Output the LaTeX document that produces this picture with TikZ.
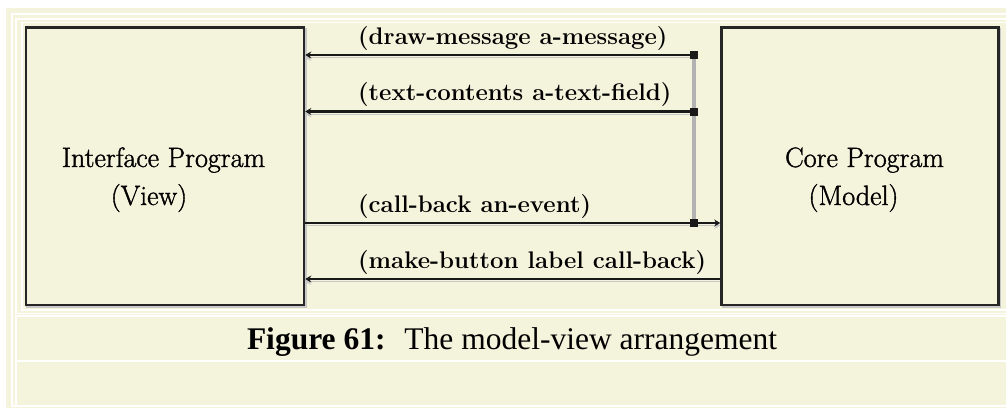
\documentclass[tikz,border=0pt]{standalone}
\usepackage{fontspec}
\newfontfamily\capfont{Liberation Serif}
\newfontfamily\progfont{Latin Modern Roman}[RawFeature={embolden=1.3}]
\usepackage{xcolor}
\usepackage{tikz}
\usetikzlibrary{arrows.meta, positioning, backgrounds}
\definecolor{panel}{HTML}{F4F3DC}

\begin{document}
\begin{tikzpicture}[
    x=1pt, y=-1pt,
    prog/.style={draw=black!85, line width=2.5pt, fill=panel, minimum width=#1, minimum height=277.5pt, inner sep=0pt,
        preaction={draw=black!22, transform canvas={shift={(1.5pt,-1.5pt)}}}},
    prog/.default=278pt,
    progtext/.style={font=\progfont\fontsize{28}{34}\selectfont, anchor=base, inner sep=0pt},
    msgtext/.style={font=\fontsize{24}{28}\selectfont\bfseries, anchor=base west, inner sep=0pt},
    arrow/.style={-{Stealth[length=6pt, width=7pt]}, line width=2.2pt, draw=black!90,
        preaction={draw=black!22, transform canvas={yshift=-2.5pt}}},
    link/.style={draw=gray!60, line width=4pt},
    dot/.style={fill=black!90, minimum size=8pt, inner sep=0pt},
    cell/.style={draw=white, line width=1.8pt},
    captext/.style={font=\capfont\fontsize{31.5}{36}\selectfont, anchor=base, inner sep=0pt},
]
\useasboundingbox (0,0) rectangle (1006,408);
\node[prog] (view) at (165,166) {};
\node[prog=277pt] (model) at (860,166) {};
\node[progtext] (viewname) at (163.5,167) {Interface Program};
\node[progtext] (viewsub) at (149,205) {(View)};
\node[progtext] (modelname) at (864.5,167) {Core Program};
\node[progtext] (modelsub) at (853.5,205) {(Model)};
\coordinate (j1) at (693.5,55);
\coordinate (j2) at (693.5,111.5);
\coordinate (j3) at (693.5,223);
\coordinate (mb) at (693.5,279);
\draw[link] (j1) -- (j3);
\draw[arrow] (j1) -- (view.east |- j1);
\draw[arrow] (j2) -- (view.east |- j2);
\draw[arrow] (view.east |- j3) -- (model.west |- j3);
\draw[arrow] (model.west |- mb) -- (view.east |- mb);
\node[dot] (d1) at (j1) {};
\node[dot] (d2) at (j2) {};
\node[dot] (d3) at (j3) {};
\node[msgtext] (drawmsg) at (358,44) {(draw-message a-message)};
\node[msgtext] (textcont) at (358,100.5) {(text-contents a-text-field)};
\node[msgtext] (callback) at (358,212) {(call-back an-event)};
\node[msgtext] (makebtn) at (358,268) {(make-button label call-back)};
\node[captext] (cap) at (512,349) {\textbf{Figure 61:}\hspace{0.6em}The model-view arrangement};
\begin{scope}[on background layer]
\fill[panel] (6,8) rectangle (1006,408);
\draw[cell] (12,14) rectangle (1010,406);
\draw[cell] (16,19) rectangle (1010,313.5);
\draw[cell] (22,22.5) rectangle (1010,310);
\draw[cell] (16,316) rectangle (1010,361);
\draw[cell] (16,361) rectangle (1010,406);
\end{scope}
\end{tikzpicture}
\end{document}
